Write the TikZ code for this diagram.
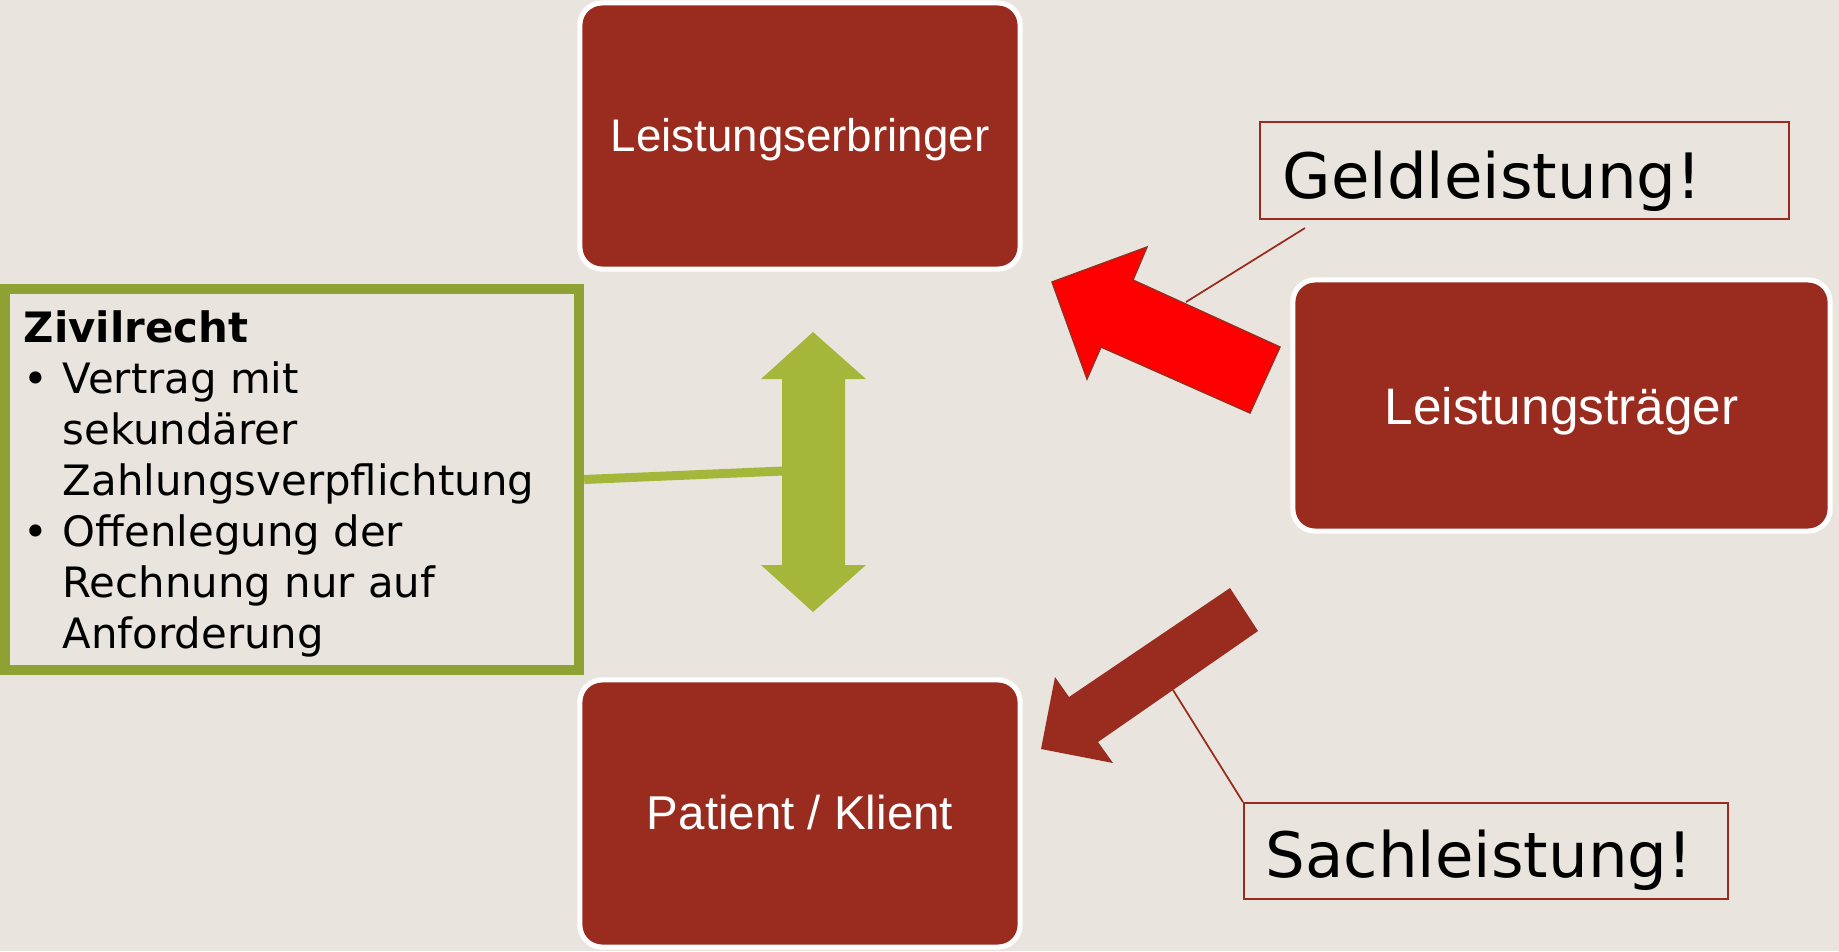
\documentclass[tikz,border=0pt]{standalone}
\usepackage{fontspec}
\setmainfont{DejaVu Sans}
\newfontfamily\boxfont{Liberation Sans}
\definecolor{bg}{HTML}{E9E5DE}
\definecolor{boxred}{HTML}{9A2C1F}
\definecolor{alarm}{HTML}{FF0000}
\definecolor{leaf}{HTML}{A4B73A}
\definecolor{frame}{HTML}{8EA234}
\begin{document}
\begin{tikzpicture}[x=0.01cm,y=-0.01cm,
  party/.style={rectangle, rounded corners=0.22cm, fill=boxred, draw=white,
    line width=1.45pt, text=white, inner sep=0,
    font=\boxfont\fontsize{13}{15}\selectfont, text height=0.38cm, text depth=0.08cm},
  callout/.style={rectangle, draw=boxred, line width=0.5pt, inner sep=0},
  calltext/.style={anchor=base west, inner sep=0, text=black,
    font=\fontsize{17.8}{20}\selectfont},
  leader/.style={draw=boxred, line width=0.5pt},
  bigarrow/.style={line join=miter}
]
% canvas
\fill[bg] (0,0) rectangle (1839,951);
\useasboundingbox (0,0) rectangle (1839,951);

% the three parties
\node[party, minimum width=4.40cm, minimum height=2.66cm] (erbringer) at (800,136) {Leistungserbringer};
\node[party, minimum width=5.37cm, minimum height=2.51cm,
      font=\boxfont\fontsize{14.6}{17}\selectfont, text height=0.46cm] (traeger) at (1561.5,405.5) {Leistungsträger};
\node[party, minimum width=4.40cm, minimum height=2.67cm,
      font=\boxfont\fontsize{13.5}{15}\selectfont, text height=0.40cm] (patient) at (800,813.5) {Patient / Klient};

% civil-law box
\node[draw=frame, line width=2.85pt, inner sep=0, minimum width=5.74cm, minimum height=3.81cm] (civil) at (292,479.5) {};
\node[anchor=north west, inner sep=0, align=left, text=black,
      font=\fontsize{11.9}{14.5}\selectfont] (civiltext) at (23,310)
  {\textbf{Zivilrecht}\\
   \makebox[0.39cm][l]{•}Vertrag mit\\
   \hspace*{0.39cm}sekundärer\\
   \hspace*{0.39cm}Zahlungsverpflichtung\\
   \makebox[0.39cm][l]{•}Offenlegung der\\
   \hspace*{0.39cm}Rechnung nur auf\\
   \hspace*{0.39cm}Anforderung};

% double arrow between Leistungserbringer and Patient
\fill[leaf, bigarrow] (813,332) -- (866,379) -- (845,379) -- (845,565) -- (866,565)
  -- (813,612) -- (761,565) -- (782,565) -- (782,379) -- (761,379) -- cycle;
\coordinate (shaftjoin) at (783,471);
\draw[leaf, line width=2.56pt] (civil.east) -- (shaftjoin);

% money benefit arrow
\filldraw[fill=alarm, draw=boxred, line width=0.4pt, bigarrow]
  (1052,282) -- (1147,247) -- (1133,280) -- (1280,347) -- (1250,413)
  -- (1101,347) -- (1087,379) -- cycle;

% benefit-in-kind arrow
\fill[boxred, bigarrow]
  (1230,588) -- (1258,631) -- (1098,742) -- (1113,763) -- (1041,749)
  -- (1055,677) -- (1069,697) -- cycle;

% callouts
\node[callout, minimum width=5.29cm, minimum height=0.97cm] (geld) at (1524.5,170.5) {};
\node[calltext] (geldtext) at (1282,198) {Geldleistung!};
\coordinate (geldfoot) at (1305,228);
\coordinate (geldtip) at (1186,302);
\draw[leader] (geldfoot) -- (geldtip);

\node[callout, minimum width=4.84cm, minimum height=0.96cm] (sach) at (1486,851) {};
\node[calltext] (sachtext) at (1265,877) {Sachleistung!};
\coordinate (sachtip) at (1173,690);
\draw[leader] (sachtip) -- (sach.north west);
\end{tikzpicture}
\end{document}
